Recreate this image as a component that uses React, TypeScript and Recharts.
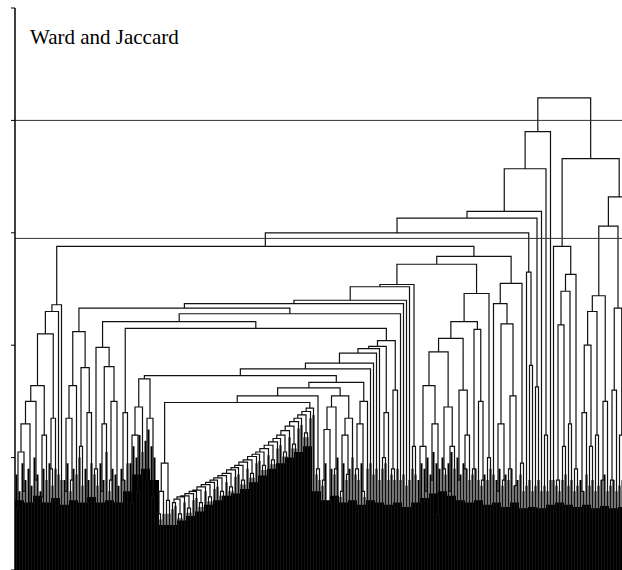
import React from "react";
import { Area, ComposedChart, Line, ReferenceLine, XAxis, YAxis } from "recharts";

// Heights at which neighbouring leaves join (leaf order left to right).
const groupA = [0.55, 1.05, 0.7, 1.3, 0.6, 1.5, 0.8, 1.64, 0.65, 1.2, 2.1, 0.9, 1.35, 2.3, 2.36];
const group80 = [0.7, 1.35, 0.8, 1.64, 2.12, 1.1, 1.8, 0.6, 1.4];
const group104 = [0.9, 1.98, 0.7, 1.3, 1.81, 0.8, 1.5, 0.6];
const group123 = [0.8, 1.4];
const group144 = [0.6, 1.2, 0.7, 1.45, 1.7, 0.8, 1.35, 0.65];
const groupTriangle = [0.5, 0.7, 0.95, 0.62];
const groupStair = [
  0.6, 0.63, 0.5, 0.65, 0.66, 0.55, 0.68, 0.7, 0.71, 0.6, 0.74, 0.76, 0.65, 0.78, 0.8, 0.82,
  0.7, 0.84, 0.86, 0.74, 0.89, 0.91, 0.93, 0.8, 0.96, 0.98, 0.86, 1.01, 1.03, 1.05, 0.93, 1.08,
  1.11, 0.98, 1.14, 1.17, 1.2, 1.05, 1.24, 1.28, 1.12, 1.32, 1.35, 1.38, 1.22, 1.41, 1.44,
];
const group317 = [0.9];
const group345 = [0.8, 1.25, 0.6, 1.45, 0.9, 1.55, 0.7, 1.2, 0.85, 1.35];
const group360 = [0.9, 1.3, 0.7, 1.5];
const group390 = [1.0, 1.4];
const group398 = [0.9, 1.6];
const group414 = [1.1];
const groupLR = [0.6, 1.1, 0.7, 1.64, 0.8, 1.3, 0.5, 1.94, 0.9, 1.45, 0.7, 1.1, 2.06, 0.8, 1.6, 0.9, 1.2, 2.21, 0.9, 2.14, 1.5, 0.8, 2.46, 1.0];
const groupBR = [2.37, 0.7, 1.3, 0.8, 2.19, 0.9, 1.55, 0.75, 2.55, 0.95];
const group529 = [2.65, 1.82];
const group540 = [1.63];
const group548 = [1.2];
const groupR1 = [2.88, 0.8, 2.18, 1.1, 2.48, 1.3, 2.63, 0.9];
const group601 = [0.7, 1.4, 2.0, 1.1, 2.3, 1.2, 2.44, 0.8, 1.5];
const group623 = [0.8, 1.6, 2.33, 1.2, 0.7];
const group630 = [1.9];

const gapHeights = [
  ...groupA, 2.88,
  ...group80, 2.33, ...group104, 2.21, ...group123, 2.15,
  ...group144, 1.73, ...groupTriangle, 1.49, ...groupStair, 1.55, ...group317, 1.62, ...group345, 1.67, ...group360,
  1.79, 1.84, 1.93, 1.97, 1.99, ...group390, 2.04, ...group398,
  2.28, 2.37, 2.4, 2.52, 2.54, ...group414,
  2.72, ...groupLR, 2.79, ...groupBR,
  3.0, ...group529, 3.13, ...group540, 3.19, 3.57, ...group548, 3.9, 4.2,
  ...groupR1, 3.66, ...group601, 3.06, ...group623, 3.32, ...group630,
];

// dense lower part of every leaf (drawn as a thick stub)
const leafStub = [
  0.85, 0.7, 0.95, 0.8, 0.9, 0.75, 1.0, 0.85, 0.7, 0.9, 0.8, 0.95, 0.75, 0.9, 0.85, 0.8,
  0.8, 0.95, 0.7, 0.9, 0.85, 1.0, 0.75, 0.9, 0.8, 0.95,
  0.85, 0.75, 0.95, 0.8, 1.05, 0.7, 0.9, 0.85, 0.75,
  0.9, 0.8, 0.95,
  0.95, 1.1, 1.0, 1.2, 1.05, 1.15, 1.25, 1.1, 1.0,
  0.45, 0.45, 0.5, 0.5, 0.5,
  0.54, 0.57, 0.46, 0.46, 0.6, 0.51, 0.51, 0.62, 0.64, 0.56, 0.56, 0.7, 0.61, 0.61, 0.72, 0.74,
  0.66, 0.66, 0.78, 0.7, 0.7, 0.83, 0.85, 0.76, 0.76, 0.9, 0.82, 0.82, 0.95, 0.97, 0.89, 0.89,
  1.02, 0.94, 0.94, 1.08, 1.11, 1.01, 1.01, 1.18, 1.08, 1.08, 1.26, 1.29, 1.18, 1.18, 1.35, 1.38,
  0.85, 0.8,
  0.75, 0.95, 0.55, 0.9, 0.85, 1.0, 0.65, 0.95, 0.8, 0.9, 1.0,
  0.85, 0.8, 0.95, 0.65, 0.9,
  0.95, 0.85, 0.9, 0.8,
  0.9, 0.95, 0.8,
  0.85, 0.8, 0.9,
  0.8, 0.85, 0.75, 0.8, 0.9, 0.85,
  0.8, 0.95, 0.9, 1.0, 0.85, 1.05, 0.95, 0.9, 1.0, 0.85, 0.95, 1.05, 0.9, 1.0, 0.85, 0.95, 0.9,
  0.8, 0.85, 0.9, 0.8, 0.75, 0.85, 0.8, 0.9,
  0.85, 0.8, 0.9, 0.75, 0.85, 0.8, 0.9, 0.75, 0.8, 0.85, 0.7,
  0.75, 0.8, 0.7, 0.75, 0.8, 0.7, 0.75, 0.7, 0.8,
  0.8, 0.75, 0.7, 0.8, 0.85, 0.75, 0.8, 0.7, 0.75, 0.8, 0.7, 0.85, 0.75, 0.8, 0.7, 0.75, 0.8,
  0.85, 0.7, 0.75, 0.8, 0.7, 0.75, 0.8, 0.7, 0.75, 0.8,
];

// top of the solid black base, one value per 3 leaves
const massTop = [
  0.62, 0.6, 0.66, 0.6, 0.64, 0.58, 0.62, 0.6, 0.65, 0.6, 0.62, 0.6,
  0.7, 0.85, 0.9, 0.8,
  0.4, 0.4, 0.44, 0.48, 0.52, 0.58, 0.62, 0.66, 0.68, 0.72, 0.78, 0.84, 0.9, 0.95, 1.0, 1.05, 1.1, 0.7,
  0.62, 0.66, 0.6, 0.62, 0.58, 0.62, 0.6, 0.58, 0.6, 0.56, 0.6, 0.64, 0.68, 0.7, 0.66, 0.62, 0.6,
  0.62, 0.58, 0.6, 0.56, 0.6, 0.55, 0.56, 0.55, 0.58, 0.6, 0.58, 0.56, 0.58, 0.55, 0.57, 0.55, 0.56, 0.56,
];

const yTicks = [0, 1, 2, 3, 4, 5];
const cutHeights = [4.0, 2.95];

const leafCount = gapHeights.length + 1;

type Pt = { x: number; y: number | null };

function buildLinks(gaps: number[]): Pt[] {
  const pts: Pt[] = [];
  const rec = (lo: number, hi: number): { x: number; h: number } => {
    if (lo === hi) return { x: lo, h: 0 };
    let k = lo;
    for (let i = lo; i < hi; i++) if (gaps[i] > gaps[k]) k = i;
    const l = rec(lo, k);
    const r = rec(k + 1, hi);
    const h = gaps[k];
    pts.push({ x: l.x, y: l.h }, { x: l.x, y: h }, { x: r.x, y: h }, { x: r.x, y: r.h }, { x: r.x, y: null });
    return { x: (l.x + r.x) / 2, h };
  };
  rec(0, gaps.length);
  return pts;
}

const links = buildLinks(gapHeights);
const stubs: Pt[] = leafStub.flatMap((v, i) => [
  { x: i, y: 0 },
  { x: i, y: v },
  { x: i, y: null },
]);
const massData = [
  ...massTop.map((m, j) => ({ x: j * 3 - 0.5, m })),
  { x: leafCount - 0.5, m: massTop[massTop.length - 1] },
];

const NoLabel = () => <g />;

export default function App() {
  return (
    <div style={{ position: "absolute", left: 0, top: 0, width: 622, height: 570, overflow: "hidden", background: "#fff" }}>
      <ComposedChart width={15 + leafCount * 3} height={570} margin={{ top: 8, right: 0, bottom: 0, left: 0 }}>
        <XAxis type="number" dataKey="x" domain={[-0.5, leafCount - 0.5]} hide allowDataOverflow />
        <YAxis
          type="number"
          domain={[0, 5]}
          ticks={yTicks}
          interval={0}
          width={15}
          tickSize={4}
          tick={<NoLabel />}
          axisLine={{ stroke: "#000", strokeWidth: 1.5 }}
          tickLine={{ stroke: "#000", strokeWidth: 1 }}
          allowDataOverflow
        />
        <Area
          data={massData}
          dataKey="m"
          type="stepAfter"
          baseValue={0}
          fill="#000"
          fillOpacity={1}
          stroke="none"
          isAnimationActive={false}
        />
        <Line
          data={stubs}
          dataKey="y"
          stroke="#000"
          strokeWidth={2}
          strokeLinecap="butt"
          dot={false}
          activeDot={false}
          connectNulls={false}
          isAnimationActive={false}
        />
        <Line
          data={links}
          dataKey="y"
          stroke="#111"
          strokeWidth={1.2}
          dot={false}
          activeDot={false}
          connectNulls={false}
          isAnimationActive={false}
        />
        {cutHeights.map((h) => (
          <ReferenceLine key={h} y={h} stroke="#333" strokeWidth={1} />
        ))}
      </ComposedChart>
      <div
        style={{
          position: "absolute",
          left: 30,
          top: 27,
          fontFamily: "'Liberation Serif', 'Times New Roman', serif",
          fontSize: 21,
          lineHeight: "21px",
          color: "#000",
        }}
      >
        Ward and Jaccard
      </div>
    </div>
  );
}
